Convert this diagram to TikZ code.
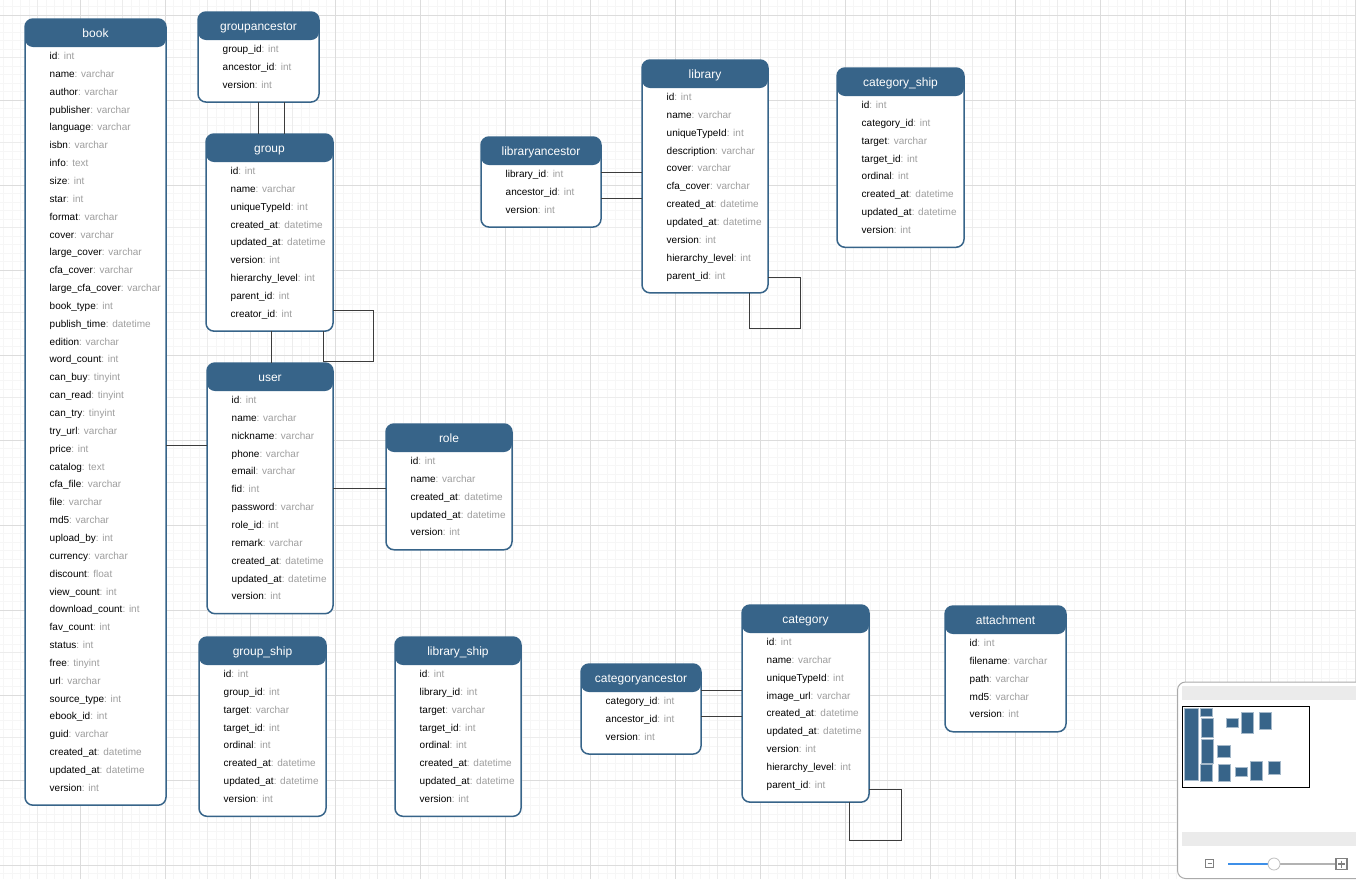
\documentclass[tikz,border=0pt]{standalone}
\usepackage{fontspec}
\setmainfont{Liberation Sans}
\usetikzlibrary{calc}

\definecolor{hdr}{HTML}{376489}
\definecolor{typegray}{HTML}{9E9E9E}
\definecolor{relgray}{HTML}{3C3C3C}
\definecolor{gridmin}{HTML}{F6F6F6}
\definecolor{gridmid}{HTML}{ECECEC}
\definecolor{gridmaj}{HTML}{DCDCDC}
\definecolor{panelgray}{HTML}{EBEBEB}
\definecolor{panelline}{HTML}{AAAAAA}
\definecolor{slider}{HTML}{3D8FE8}

\tikzset{
  erbody/.style={draw=hdr, line width=1.5pt, rounded corners=8pt, fill=white,
    inner sep=0pt, outer sep=0pt, anchor=north west,
    path picture={\fill[hdr] (path picture bounding box.north west)
      rectangle ([yshift=-28pt]path picture bounding box.north east);}},
  ertitle/.style={text=white, font=\fontsize{12}{14}\selectfont, inner sep=0pt, anchor=base},
  erfield/.style={font=\fontsize{10}{12}\selectfont, inner sep=0pt, anchor=base west},
  rel/.style={draw=relgray, line width=0.9pt},
  minitab/.style={fill=hdr, draw=hdr!45!white, line width=0.6pt},
}

% name, x, y, width, rows, title, fields
\newcommand{\erentity}[7]{%
  \node[erbody, minimum width=#4, minimum height={36.5+#5*17.85}] (#1) at (#2,#3) {};
  \node[ertitle] (#1-title) at ([yshift=-18.5pt]#1.north) {#6};
  \foreach \fname/\ftype [count=\i] in {#7}
    \node[erfield] (#1-\i) at ([xshift=24.5pt,yshift={-40.5pt-(\i-1)*17.85pt}]#1.north west)
      {\fname\textcolor{typegray}{: \ftype}};
}

\begin{document}
\begin{tikzpicture}[x=1pt, y=-1pt]
  \useasboundingbox (0,0) rectangle (1356,879);
  \fill[white] (0,0) rectangle (1356,879);

  % grid
  \foreach \x in {3.5,12,...,1356} \draw[gridmin, line width=1pt] (\x,0) -- (\x,879);
  \foreach \y in {6.5,15,...,879} \draw[gridmin, line width=1pt] (0,\y) -- (1356,\y);
  \foreach \x in {37.5,122.5,...,1356} \draw[gridmid, line width=1pt] (\x,0) -- (\x,879);
  \foreach \y in {57.5,142.5,...,879} \draw[gridmid, line width=1pt] (0,\y) -- (1356,\y);
  \foreach \x in {80,165,...,1356} \draw[gridmaj, line width=1pt] (\x,0) -- (\x,879);
  \foreach \y in {15,100,...,879} \draw[gridmaj, line width=1pt] (0,\y) -- (1356,\y);

  % tables
  \erentity{book}{25}{19}{141}{42}{book}{id/int, name/varchar, author/varchar, publisher/varchar,
    language/varchar, isbn/varchar, info/text, size/int, star/int, format/varchar, cover/varchar,
    large\_cover/varchar, cfa\_cover/varchar, large\_cfa\_cover/varchar, book\_type/int,
    publish\_time/datetime, edition/varchar, word\_count/int, can\_buy/tinyint, can\_read/tinyint,
    can\_try/tinyint, try\_url/varchar, price/int, catalog/text, cfa\_file/varchar, file/varchar,
    md5/varchar, upload\_by/int, currency/varchar, discount/float, view\_count/int,
    download\_count/int, fav\_count/int, status/int, free/tinyint, url/varchar, source\_type/int,
    ebook\_id/int, guid/varchar, created\_at/datetime, updated\_at/datetime, version/int}
  \erentity{gancestor}{198}{12}{121}{3}{groupancestor}{group\_id/int, ancestor\_id/int, version/int}
  \erentity{group}{206}{134}{127}{9}{group}{id/int, name/varchar, uniqueTypeId/int,
    created\_at/datetime, updated\_at/datetime, version/int, hierarchy\_level/int,
    parent\_id/int, creator\_id/int}
  \erentity{user}{207}{363}{126}{12}{user}{id/int, name/varchar, nickname/varchar, phone/varchar,
    email/varchar, fid/int, password/varchar, role\_id/int, remark/varchar,
    created\_at/datetime, updated\_at/datetime, version/int}
  \erentity{role}{386}{424}{126}{5}{role}{id/int, name/varchar, created\_at/datetime,
    updated\_at/datetime, version/int}
  \erentity{lancestor}{481}{137}{120}{3}{libraryancestor}{library\_id/int, ancestor\_id/int, version/int}
  \erentity{library}{642}{60}{126}{11}{library}{id/int, name/varchar, uniqueTypeId/int,
    description/varchar, cover/varchar, cfa\_cover/varchar, created\_at/datetime,
    updated\_at/datetime, version/int, hierarchy\_level/int, parent\_id/int}
  \erentity{catship}{837}{68}{127}{8}{category\_ship}{id/int, category\_id/int, target/varchar,
    target\_id/int, ordinal/int, created\_at/datetime, updated\_at/datetime, version/int}
  \erentity{groupship}{199}{637}{127}{8}{group\_ship}{id/int, group\_id/int, target/varchar,
    target\_id/int, ordinal/int, created\_at/datetime, updated\_at/datetime, version/int}
  \erentity{libship}{395}{637}{126}{8}{library\_ship}{id/int, library\_id/int, target/varchar,
    target\_id/int, ordinal/int, created\_at/datetime, updated\_at/datetime, version/int}
  \erentity{cancestor}{581}{664}{120}{3}{categoryancestor}{category\_id/int, ancestor\_id/int, version/int}
  \erentity{category}{742}{605}{127}{9}{category}{id/int, name/varchar, uniqueTypeId/int,
    image\_url/varchar, created\_at/datetime, updated\_at/datetime, version/int,
    hierarchy\_level/int, parent\_id/int}
  \erentity{attach}{945}{606}{121}{5}{attachment}{id/int, filename/varchar, path/varchar,
    md5/varchar, version/int}

  % relations
  \draw[rel] (gancestor.south) -- (gancestor.south |- group.north);
  \draw[rel] ([xshift=25.5pt]gancestor.south) -- ([xshift=25.5pt]gancestor.south |- group.north);
  \draw[rel] ([yshift=21pt]group.south east) -- ++(40,0) -- ++(0,51) -| ([xshift=-10pt]group.south east);
  \draw[rel] ([xshift=2pt]group.south) -- ([xshift=2pt]group.south |- user.north);
  \draw[rel] ([yshift=42.5pt]user.west) -- ([yshift=42.5pt]user.west -| book.east);
  \draw[rel] (user.east) -- (user.east -| role.west);
  \draw[rel] ([yshift=10pt]lancestor.east) -- ([yshift=10pt]lancestor.east -| library.west);
  \draw[rel] ([yshift=-16pt]lancestor.east) -- ([yshift=-16pt]lancestor.east -| library.west);
  \draw[rel] ([yshift=15pt]library.south east) -- ++(32,0) -- ++(0,51) -| ([xshift=-19pt]library.south east);
  \draw[rel] ([yshift=18.5pt]cancestor.east) -- ([yshift=18.5pt]cancestor.east -| category.west);
  \draw[rel] ([yshift=-7.5pt]cancestor.east) -- ([yshift=-7.5pt]cancestor.east -| category.west);
  \draw[rel] ([yshift=13pt]category.south east) -- ++(32,0) -- ++(0,51) -| ([xshift=-20pt]category.south east);

  % outline panel
  \draw[panelline, fill=white, line width=1pt, rounded corners=8pt] (1177.5,682) rectangle (1372,878.5);
  \fill[panelgray] (1182,686) rectangle (1356,700);
  \fill[panelgray] (1182,832) rectangle (1356,846);
  \foreach \xa/\ya/\xb/\yb in {1184/708/1198/780, 1200/708/1212/716, 1201/718/1213/737,
      1226/718/1238/727, 1241/712/1253/733, 1259/712/1271/729, 1201/739/1213/763,
      1217/745/1230/757, 1200/764/1212/781, 1218/764/1230/781, 1235/767/1247/776,
      1250/761/1262/780, 1268/761/1280/774}
    \draw[minitab] (\xa,\ya) rectangle (\xb,\yb);
  \draw[black, line width=1pt] (1182,706) rectangle (1309,787);
  \draw[gray, line width=1.3pt] (1205.5,859.5) rectangle (1213.5,867.5);
  \draw[gray, line width=1.3pt] (1207.5,863.5) -- (1211.5,863.5);
  \draw[gray!60, line width=2pt] (1274,864) -- (1336,864);
  \draw[slider, line width=2pt] (1228,864) -- (1274,864);
  \draw[gray, line width=1.3pt] (1336,858.5) rectangle (1347,869.5);
  \draw[gray, line width=1.3pt] (1338,864) -- (1345,864) (1341.5,860.5) -- (1341.5,867.5);
  \draw[gray!50, fill=white, line width=0.8pt] (1274,864) circle (6pt);
\end{tikzpicture}
\end{document}
